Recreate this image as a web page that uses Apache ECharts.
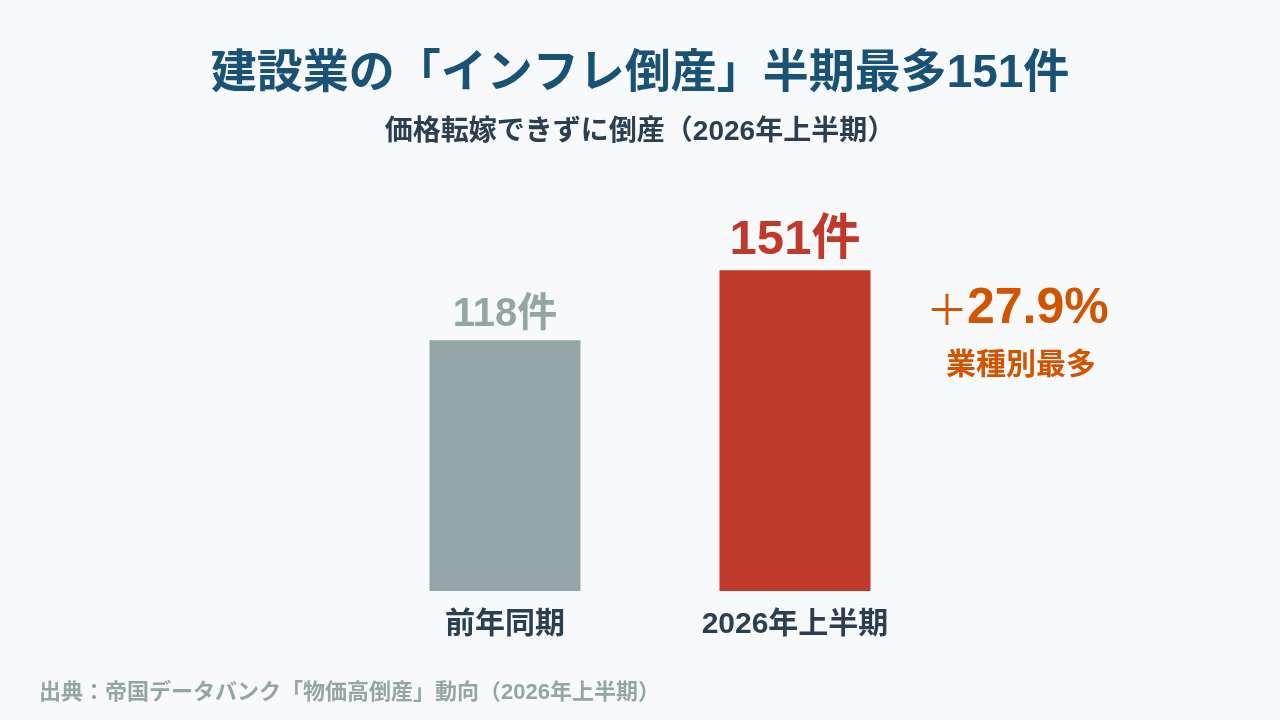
<!DOCTYPE html>
<html>
<head>
<meta charset="utf-8">
<script src="https://cdn.jsdelivr.net/npm/echarts@6/dist/echarts.min.js"></script>
<style>
  html, body { margin: 0; padding: 0; background: #f7f9fb; }
  #main { width: 1280px; height: 720px; }
</style>
</head>
<body>
<div id="main"></div>
<script>
var categories = ['前年同期', '2026年上半期'];
var counts = [118, 151];
var barColors = ['#95a5a6', '#c0392b'];
var labelSizes = [40, 49];
var changeText = '27.9%';
var changeNote = '業種別最多';

var FONT = '"Liberation Sans", "Noto Sans CJK JP", sans-serif';

var chart = echarts.init(document.getElementById('main'));

var barData = counts.map(function (v, i) {
  return {
    value: v,
    itemStyle: { color: barColors[i] },
    label: {
      color: barColors[i],
      fontSize: labelSizes[i]
    }
  };
});

var option = {
  backgroundColor: '#f7f9fb',
  title: [{
    text: '建設業の「インフレ倒産」半期最多151件',
    left: 'center',
    top: 46,
    textStyle: { color: '#1a5276', fontSize: 46, fontWeight: 'bold', fontFamily: FONT }
  }, {
    text: '価格転嫁できずに倒産（2026年上半期）',
    left: 'center',
    top: 113,
    textStyle: { color: '#2c3e50', fontSize: 28, fontWeight: 'bold', fontFamily: FONT }
  }, {
    text: '出典：帝国データバンク「物価高倒産」動向（2026年上半期）',
    left: 34,
    top: 677,
    textStyle: { color: '#95a5a6', fontSize: 22, fontWeight: 'bold', fontFamily: FONT }
  }],
  grid: { left: 360, right: 340, top: 251, bottom: 129 },
  xAxis: {
    type: 'category',
    data: categories,
    axisLine: { show: false },
    axisTick: { show: false },
    axisLabel: { color: '#2c3e50', fontSize: 30, fontWeight: 'bold', fontFamily: FONT, margin: 19 }
  },
  yAxis: {
    type: 'value',
    min: 0,
    max: 160,
    show: false,
    splitLine: { show: false }
  },
  series: [{
    type: 'bar',
    barWidth: 151,
    data: barData,
    label: {
      show: true,
      position: 'top',
      distance: 5,
      fontWeight: 'bold',
      fontFamily: FONT,
      formatter: '{c}件'
    }
  }],
  graphic: [{
    type: 'text',
    left: 926,
    top: 288,
    style: {
      text: '＋',
      fill: '#d35400',
      fontSize: 42,
      fontWeight: 'normal',
      fontFamily: '"Noto Sans CJK JP", sans-serif'
    }
  }, {
    type: 'text',
    left: 967,
    top: 284,
    style: { text: changeText, fill: '#d35400', fontSize: 50, fontWeight: 'bold', fontFamily: FONT }
  }, {
    type: 'text',
    left: 946,
    top: 351,
    style: { text: changeNote, fill: '#d35400', fontSize: 30, fontWeight: 'bold', fontFamily: FONT }
  }]
};

chart.setOption(option);
</script>
</body>
</html>
